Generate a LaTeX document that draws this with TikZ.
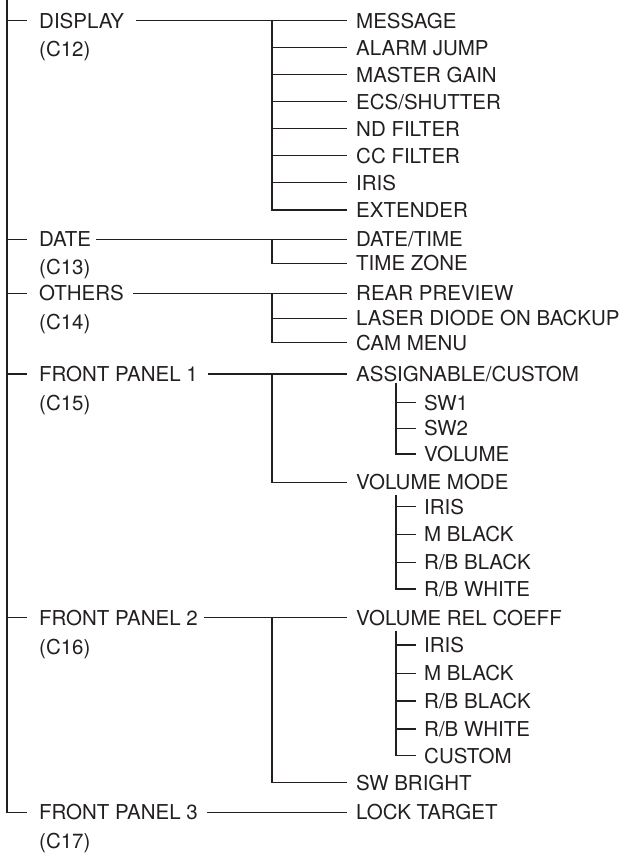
\documentclass[tikz,border=0pt]{standalone}
\usepackage{fontspec}
\setmainfont{TeX Gyre Heros}
\usetikzlibrary{calc}
\definecolor{ink}{HTML}{231F20}
\tikzset{
  lbl/.style={anchor=west, inner sep=0pt, text height=14.7pt, text depth=0pt,
              font=\fontsize{20.5}{24}\selectfont, text=ink},
  wire/.style={draw=ink, line width=1.1pt},
}
\begin{document}
\begin{tikzpicture}[x=1pt,y=-1pt]
\useasboundingbox (0,0) rectangle (626,856);
% helper coordinates for vertical rails
\coordinate (top) at (7,0);
\coordinate (bx) at (272,0);
\coordinate (sx) at (396,0);
% level-1 labels
\node[lbl] (display) at (39,20.7) {DISPLAY};
\node[lbl] (c12) at (39,49.5) {(C12)};
\node[lbl] (date) at (39,239.3) {DATE};
\node[lbl] (c13) at (39,267) {(C13)};
\node[lbl] (others) at (39,293.3) {OTHERS};
\node[lbl] (c14) at (39,321.7) {(C14)};
\node[lbl] (fpa) at (39,374) {FRONT PANEL 1};
\node[lbl] (c15) at (39,403) {(C15)};
\node[lbl] (fpb) at (39,617.7) {FRONT PANEL 2};
\node[lbl] (c16) at (39,647) {(C16)};
\node[lbl] (fpc) at (39,812.3) {FRONT PANEL 3};
\node[lbl] (c17) at (39,841.3) {(C17)};
% level-2 labels
\node[lbl] (message) at (356,20.7) {MESSAGE};
\node[lbl] (alarm) at (356,47.7) {ALARM JUMP};
\node[lbl] (gain) at (356,74.8) {MASTER GAIN};
\node[lbl] (ecs) at (356,101.8) {ECS/SHUTTER};
\node[lbl] (nd) at (356,128.9) {ND FILTER};
\node[lbl] (cc) at (356,155.9) {CC FILTER};
\node[lbl] (irisa) at (356,182.9) {IRIS};
\node[lbl] (extender) at (356,210) {EXTENDER};
\node[lbl] (datetime) at (356,239.3) {DATE/TIME};
\node[lbl] (tzone) at (356,263.3) {TIME ZONE};
\node[lbl] (rear) at (356,293.3) {REAR PREVIEW};
\node[lbl] (laser) at (356,318.3) {LASER DIODE ON BACKUP};
\node[lbl] (cam) at (356,342.7) {CAM MENU};
\node[lbl] (assign) at (356,374) {ASSIGNABLE/CUSTOM};
\node[lbl] (volmode) at (356,482.3) {VOLUME MODE};
\node[lbl] (relcoeff) at (356,617.7) {VOLUME REL COEFF};
\node[lbl] (swbright) at (356,782.7) {SW BRIGHT};
\node[lbl] (lock) at (356,812.3) {LOCK TARGET};
% level-3 labels
\node[lbl] (swa) at (424,402.7) {SW1};
\node[lbl] (swb) at (424,428.3) {SW2};
\node[lbl] (vol) at (424,454) {VOLUME};
\node[lbl] (irisb) at (424,506.7) {IRIS};
\node[lbl] (mblacka) at (424,534.3) {M BLACK};
\node[lbl] (rbblacka) at (424,562.3) {R/B BLACK};
\node[lbl] (rbwhitea) at (424,589) {R/B WHITE};
\node[lbl] (irisc) at (424,645) {IRIS};
\node[lbl] (mblackb) at (424,673.3) {M BLACK};
\node[lbl] (rbblackb) at (424,701) {R/B BLACK};
\node[lbl] (rbwhiteb) at (424,729) {R/B WHITE};
\node[lbl] (custom) at (424,755.7) {CUSTOM};
% main rail
\draw[wire] (top) |- ([xshift=-12pt]fpc.west);
\foreach \n in {display,date,others,fpa,fpb}
  \draw[wire] (\n.west -| top) -- ([xshift=-12pt]\n.west);
% level-1 to level-2 leads
\draw[wire] ([xshift=12pt]display.east) -- ([xshift=-9pt]message.west);
\draw[wire] ([xshift=5pt]date.east) -- ([xshift=-9pt]datetime.west);
\draw[wire] ([xshift=9pt]others.east) -- ([xshift=-9pt]rear.west);
\draw[wire] ([xshift=10pt]fpa.east) -- ([xshift=-9pt]assign.west);
\draw[wire] ([xshift=6pt]fpb.east) -- ([xshift=-9pt]relcoeff.west);
\draw[wire] ([xshift=9pt]fpc.east) -- ([xshift=-9pt]lock.west);
% level-2 rails
\draw[wire] (message.west -| bx) |- ([xshift=-9pt]extender.west);
\foreach \n in {alarm,gain,ecs,nd,cc,irisa}
  \draw[wire] (\n.west -| bx) -- ([xshift=-9pt]\n.west);
\draw[wire] (datetime.west -| bx) |- ([xshift=-9pt]tzone.west);
\draw[wire] (rear.west -| bx) |- ([xshift=-9pt]cam.west);
\draw[wire] (laser.west -| bx) -- ([xshift=-9pt]laser.west);
\draw[wire] (assign.west -| bx) |- ([xshift=-9pt]volmode.west);
\draw[wire] (relcoeff.west -| bx) |- ([xshift=-9pt]swbright.west);
% level-3 rails
\draw[wire] ($(assign.west -| sx)+(0,9)$) |- ([xshift=-8pt]vol.west);
\foreach \n in {swa,swb}
  \draw[wire] (\n.west -| sx) -- ([xshift=-8pt]\n.west);
\draw[wire] ($(volmode.west -| sx)+(0,12.5)$) |- ([xshift=-8pt]rbwhitea.west);
\foreach \n in {irisb,mblacka,rbblacka}
  \draw[wire] (\n.west -| sx) -- ([xshift=-8pt]\n.west);
\draw[wire] ($(relcoeff.west -| sx)+(0,13)$) |- ([xshift=-8pt]custom.west);
\foreach \n in {irisc,mblackb,rbblackb,rbwhiteb}
  \draw[wire] (\n.west -| sx) -- ([xshift=-8pt]\n.west);
\end{tikzpicture}
\end{document}
